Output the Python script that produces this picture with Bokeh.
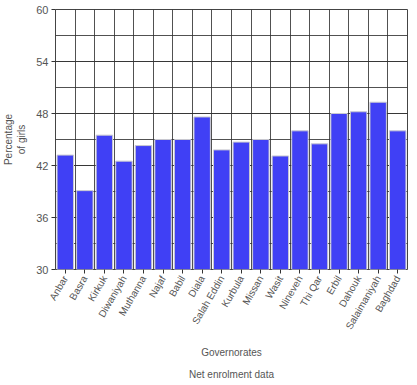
from bokeh.plotting import figure
from bokeh.models import FixedTicker, Range1d, Title
from bokeh.embed import file_html
from bokeh.resources import INLINE
import math

categories = ["Anbar", "Basra", "Kirkuk", "Diwaniyah", "Muthanna", "Najaf", "Babil",
              "Diala", "Salah Eddin", "Kurbula", "Missan", "Wasit", "Nineveh",
              "Thi Qar", "Erbil", "Dahouk", "Salaimaniyah", "Baghdad"]
values = [43.2, 39.1, 45.5, 42.5, 44.3, 45.0, 45.0, 47.6, 43.8, 44.7, 45.0, 43.1,
          46.0, 44.5, 48.0, 48.2, 49.3, 46.0]
y_ticks = [30, 36, 42, 48, 54, 60]

xs = list(range(len(categories)))
FONT = "Liberation Sans"
TXT = "#555555"

p = figure(width=408, height=385, output_backend="svg", toolbar_location=None,
           x_range=Range1d(-0.5, len(categories) - 0.5), y_range=Range1d(30, 60),
           min_border_left=50, min_border_right=1, min_border_top=9,
           background_fill_color="white", border_fill_color="white")

p.vbar(x=xs, top=values, bottom=30, width=0.84, fill_color="#4040f5",
       line_color="#c8c8d0", line_width=1)

p.xaxis.ticker = FixedTicker(ticks=xs)
p.xaxis.major_label_overrides = {i: c for i, c in enumerate(categories)}
p.xaxis.major_label_orientation = math.pi / 3
p.xgrid.ticker = FixedTicker(ticks=[i + 0.5 for i in xs[:-1]])

p.yaxis.ticker = FixedTicker(ticks=y_ticks, minor_ticks=list(range(30, 61, 3)))
p.ygrid.minor_grid_line_color = "#333333"
p.ygrid.minor_grid_line_alpha = 0.85

for g in (p.xgrid, p.ygrid):
    g.grid_line_color = "#333333"
    g.grid_line_alpha = 0.85
    g.grid_line_width = 1
p.ygrid.level = "underlay"
p.xgrid.level = "underlay"

for ax in (p.xaxis, p.yaxis):
    ax.axis_line_color = None
    ax.major_tick_line_color = "#333333"
    ax.minor_tick_line_color = None
    ax.major_tick_out = 4
    ax.major_tick_in = 0
    ax.major_label_text_font = FONT
    ax.major_label_text_font_size = "10px"
    ax.major_label_text_color = TXT
    ax.axis_label_text_font = FONT
    ax.axis_label_text_font_size = "10px"
    ax.axis_label_text_font_style = "normal"
    ax.axis_label_text_color = TXT
    ax.major_label_standoff = 3

p.yaxis.major_label_text_font_size = "11px"
p.yaxis.axis_label = "Percentage\nof girls"
p.yaxis.axis_label_standoff = 6
p.xaxis.axis_label = "Governorates"
p.xaxis.axis_label_standoff = 10

p.outline_line_color = "#444444"
p.outline_line_width = 1

t = Title(text="Net enrolment data", align="center", text_font=FONT,
          text_font_size="10px", text_font_style="normal", text_color=TXT,
          standoff=12)
p.add_layout(t, "below")

open("out.html", "w").write(file_html(p, INLINE))
